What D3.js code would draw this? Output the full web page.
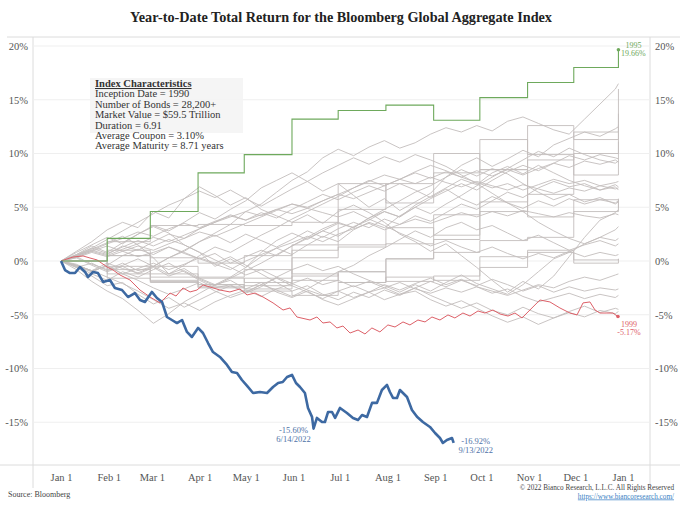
<!DOCTYPE html>
<html><head><meta charset="utf-8">
<script src="https://cdn.jsdelivr.net/npm/d3@7"></script>
<style>body{margin:0;background:#fff} text{font-family:"Liberation Serif","DejaVu Serif",serif}</style>
</head><body><svg id="c" width="680" height="510"></svg>
<script>
// ---------- DATA ----------
const title = "Year-to-Date Total Return for the Bloomberg Global Aggregate Index";
const yTicks = [-15, -10, -5, 0, 5, 10, 15, 20];
const infoLines = ["Inception Date = 1990", "Number of Bonds = 28,200+", "Market Value = $59.5 Trillion",
  "Duration = 6.91", "Average Coupon = 3.10%", "Average Maturity = 8.71 years"];

// monthly (step) series: day-of-year of month ends
const monthDays = [0, 30, 58, 89, 119, 150, 180, 211, 242, 272, 303, 333, 362];
const y1990 = [0, -1.6, -1.9, -2.5, -2.3, 0.3, 1.5, 3.1, 2.4, 4.6, 9.4, 12.0, 12.7];
const y1991 = [0, 1.0, -0.5, -1.5, -0.8, -1.2, -2.0, 0.2, 2.0, 5.5, 6.2, 10.0, 16.0];
const y1992 = [0, -0.8, -1.8, -2.4, -1.6, 1.5, 4.8, 7.2, 10.0, 8.5, 4.1, 4.6, 5.8];
const y1993 = [0, 1.8, 3.3, 3.4, 3.3, 3.6, 7.2, 5.4, 8.2, 11.3, 9.9, 8.0, 11.1];
const y1994 = [0, 0.5, -1.5, -2.2, -2.8, -3.2, -2.0, -1.5, -1.8, 0.4, 0.8, 0.1, 0.2];
const y1995 = [0, 2.1, 4.6, 8.2, 9.9, 13.2, 14.0, 14.5, 13.1, 15.2, 16.6, 18.0, 19.66];
const y1996 = [0, -0.5, -1.2, -1.6, -2.0, -1.8, -1.0, 0.2, 0.8, 1.9, 2.2, 5.7, 4.9];
const y1997 = [0, -1.2, -2.0, -2.2, -2.6, -1.4, -1.0, -1.9, -1.4, -0.6, 1.0, -0.2, 0.2];
const y1998 = [0, 0.5, 0.3, -0.2, 0.5, 1.0, 1.3, 1.6, 4.3, 8.5, 12.6, 11.3, 13.7];

// daily series sampled every 10 days
const days = [0,10,20,30,40,50,60,70,80,90,100,110,120,130,140,150,160,170,180,190,200,210,220,230,240,250,260,270,280,290,300,310,320,330,340,350,360,362];
const y2000 = [0,-0.5,-1.2,-1.8,-1.0,-1.5,-0.8,-0.2,-1.0,-1.8, -2.5,-2.2,-3.0,-2.4,-1.5,-0.8,-0.3,-0.9,-0.5,-1.2, -1.8,-2.3,-2.9,-2.2,-2.8,-2.0,-1.3,-2.1,-2.6,-3.1, -2.2,-1.0,0.2,0.8,1.6,2.2,2.9,3.2];
const y2001 = [0,-0.3,-1.0,-0.4,-1.2,-1.8,-2.5,-3.1,-2.6,-2.0, -2.8,-3.4,-2.9,-2.2,-2.7,-3.3,-2.6,-1.8,-1.0,-0.4, 0.5,1.2,2.0,2.8,2.2,3.1,3.6,2.9,3.3,2.6, 1.9,2.4,1.7,1.0,1.5,1.9,1.4,1.6];
const y2002 = [0,-0.4,-0.9,-0.2,-0.7,-1.1,-0.5,0.3,0.9,1.8, 2.6,3.4,4.6,5.3,6.4,7.5,8.3,9.6,10.4,9.8, 10.6,11.2,10.5,11.0,11.8,12.4,12.0,12.6,12.1,13.0, 13.4,12.8,12.2,11.8,13.2,14.6,16.0,16.5];
const y2003 = [0,0.8,1.5,2.2,1.6,2.5,3.3,2.8,3.6,4.5, 3.9,4.8,5.6,6.8,7.5,8.2,7.4,6.5,7.2,6.1, 5.0,5.8,4.7,5.5,6.3,7.8,8.9,9.6,8.8,9.5, 10.3,9.7,10.8,11.4,12.0,11.6,12.3,12.5];
const y2004 = [0,0.6,1.4,0.8,1.7,2.5,3.2,2.6,1.5,0.8, -0.5,0.2,-0.6,0.4,1.2,0.6,1.5,2.3,1.8,2.9, 3.6,3.1,4.2,5.0,4.4,5.3,6.1,7.0,7.8,8.6, 9.4,10.2,9.7,10.5,9.9,9.4,9.1,9.3];
const y2005 = [0,-0.6,-0.2,-0.9,-0.4,0.2,-0.5,-1.2,-0.7,-1.6, -2.2,-1.8,-2.6,-2.0,-2.9,-3.4,-2.8,-3.6,-4.1,-3.5, -2.9,-3.6,-3.1,-2.5,-3.2,-3.8,-4.4,-3.9,-4.6,-5.0, -4.3,-4.9,-5.3,-4.7,-4.2,-4.8,-4.4,-4.5];
const y2006 = [0,0.4,-0.3,-0.8,-0.2,-0.9,-0.5,0.3,1.0,1.8, 2.4,1.7,2.5,1.9,1.3,2.0,2.8,2.2,3.0,3.6, 3.1,3.9,3.4,4.2,3.7,4.5,5.3,4.8,5.6,6.4, 5.9,6.8,7.4,6.9,7.2,6.6,6.9,6.6];
const y2007 = [0,-0.5,-1.0,-0.4,0.5,1.1,0.6,1.3,0.8,0.2, 0.7,-0.2,0.4,1.0,0.5,1.4,2.1,2.8,2.3,3.2, 3.8,4.6,4.1,5.0,5.8,6.5,7.2,6.6,7.5,8.3, 8.9,8.4,9.1,9.8,9.4,9.9,9.6,9.5];
const y2008 = [0,0.9,1.8,2.9,3.6,3.1,4.6,4.0,5.8,6.9, 6.1,5.2,5.9,4.8,4.2,3.6,4.3,3.5,4.6,5.2, 4.5,3.6,2.5,1.8,0.9,1.6,0.5,-0.6,-1.8,-2.9, -1.9,-2.6,-1.4,0.4,2.2,3.8,4.5,4.8];
const y2009 = [0,-0.8,-1.9,-2.8,-3.5,-4.6,-5.8,-4.9,-3.8,-3.0, -2.2,-1.5,-0.6,0.8,1.9,2.6,2.0,2.8,3.5,3.1, 4.0,4.6,4.1,5.2,6.0,6.8,7.6,7.1,8.2,8.8, 8.1,8.9,8.2,7.5,7.0,6.6,7.1,6.9];
const y2010 = [0,0.3,-0.4,-1.0,-0.5,-1.2,-0.6,-1.4,-0.9,-1.7, -2.3,-1.6,-0.9,-0.2,0.6,1.4,2.2,3.0,3.6,3.1, 4.0,4.8,5.6,6.4,7.0,7.8,8.5,7.9,8.6,8.1, 7.2,6.4,5.7,6.2,5.5,5.9,5.3,5.5];
const y2011 = [0,0.5,1.0,0.6,1.4,1.0,1.8,2.5,2.1,3.0, 3.6,4.3,3.8,4.5,4.0,4.8,5.5,6.2,5.7,6.4, 7.0,6.5,7.2,6.6,5.9,6.7,5.8,5.2,6.0,5.4, 4.9,5.6,5.1,5.8,5.3,5.7,5.4,5.6];
const y2012 = [0,0.4,0.9,1.4,0.9,0.4,0.8,1.3,0.7,0.2, -0.3,-0.8,0.0,0.6,1.2,1.7,2.3,1.8,2.5,3.0, 3.5,2.9,3.4,3.9,3.5,4.0,4.5,4.1,4.6,4.2, 4.7,4.4,4.1,4.5,4.2,4.0,4.4,4.3];
const y2013 = [0,-0.4,-0.9,-0.5,-1.2,-0.7,-0.2,-0.8,-0.3,0.3, -0.2,0.4,-0.4,-1.2,-2.0,-2.8,-2.3,-3.1,-3.6,-2.9, -3.4,-2.7,-3.2,-2.5,-1.9,-2.4,-1.8,-2.3,-1.7,-2.2, -2.8,-2.3,-2.9,-2.4,-2.8,-2.5,-2.7,-2.6];
const y2014 = [0,0.5,1.0,1.6,2.1,2.7,2.3,3.0,3.5,3.1, 3.7,4.2,3.8,4.3,4.8,4.4,4.9,4.5,4.1,4.6, 3.9,3.3,2.6,2.0,1.4,1.9,1.3,0.8,1.3,0.7, 0.2,0.7,0.3,0.9,0.4,0.8,0.5,0.6];
const y2015 = [0,-0.6,-1.4,-2.3,-2.0,-3.1,-4.0,-3.4,-4.3,-3.6, -2.9,-2.3,-2.9,-2.2,-1.6,-2.3,-2.9,-3.5,-2.8,-3.4, -2.9,-2.2,-2.7,-2.1,-1.6,-2.2,-1.7,-2.4,-3.0,-2.6, -3.3,-3.8,-3.4,-3.0,-3.5,-3.1,-3.4,-3.2];
const y2016 = [0,0.5,1.2,2.0,2.8,3.6,4.4,5.2,5.8,6.5, 5.9,6.6,5.8,5.1,5.9,6.7,7.4,8.2,8.9,9.6, 9.0,9.7,9.2,9.9,9.4,8.8,8.0,7.2,6.3,5.4, 4.6,3.6,2.8,2.1,1.6,2.2,1.9,2.1];
const y2017 = [0,0.4,0.9,0.5,1.1,1.6,2.2,1.8,2.4,3.0, 3.6,4.1,4.6,4.2,4.8,5.3,4.9,5.6,6.2,6.8, 7.4,8.0,7.6,8.3,8.9,8.4,7.8,7.3,6.8,7.2, 6.6,7.1,7.6,7.2,7.5,7.0,7.3,7.4];
const y2018 = [0,0.6,1.2,0.7,1.3,1.9,1.4,2.0,1.5,0.8, 0.1,-0.6,-1.3,-0.8,-1.5,-2.1,-1.6,-2.2,-1.8,-2.4, -1.9,-2.5,-2.0,-2.6,-3.0,-2.5,-2.9,-2.4,-2.8,-3.2, -2.7,-2.2,-2.5,-1.9,-1.5,-1.8,-1.3,-1.2];
const y2019 = [0,0.3,0.8,0.4,0.9,1.4,1.0,1.6,2.1,2.7, 2.3,2.9,3.5,4.1,4.7,5.3,5.0,5.6,6.2,5.8, 6.4,7.0,7.6,7.2,7.8,7.3,6.9,7.4,7.0,6.6, 7.1,6.7,6.3,6.8,6.5,7.0,6.7,6.8];
const y2020 = [0,0.5,1.1,1.7,2.3,1.5,0.3,-1.2,-0.4,0.5, 1.3,0.8,1.6,2.4,3.1,3.9,4.6,5.3,6.0,6.8, 7.5,7.0,7.6,8.2,7.7,8.3,7.8,8.4,7.9,8.5, 8.0,8.6,9.1,8.7,9.3,9.0,9.4,9.2];
const y2021 = [0,-0.4,-0.9,-1.5,-2.1,-2.8,-3.6,-4.4,-3.9,-4.6, -3.8,-3.2,-2.7,-3.3,-2.6,-2.1,-2.7,-3.2,-2.8,-2.3, -2.9,-2.5,-3.1,-2.8,-3.6,-4.2,-3.7,-4.4,-5.1,-5.7, -5.2,-5.9,-5.3,-4.8,-5.2,-4.6,-4.9,-4.7];

// 1999 (highlighted red)
const days1999 = [0,7.8,14.3,18.8,23.4,29.9,33.8,38.3,44.8,51.3,57.8,64.3,70.8,74.7,79.2,83.8,88.3,92.2,96.8,103.2,109.7,116.2,120.8,126,131.2,137.7,144.2,148.7,153.2,161.7,166.2,170.1,174.7,179.2,183.1,187.7,192.9,197.4,201.9,207.1,212.3,216.9,222.1,226.6,231.8,236.4,240.9,246.1,251.3,255.8,261,265.6,270.8,275.3,280.5,285.1,290.3,294.8,299.4,304.5,311,317.5,324,330.5,335.1,339,343.5,346.8,350,354.5,358.4,361.7];
const y1999 = [0,0.37,0.47,0.28,0.1,-0.56,-0.84,-1.3,-1.77,-2.7,-3.35,-3.9,-2.98,-3.26,-2.51,-2.88,-2.7,-2.23,-2.42,-2.7,-2.88,-2.6,-3.16,-2.98,-3.35,-3.9,-4.56,-4.37,-5.21,-5.49,-5.21,-5.77,-5.67,-6.23,-6.05,-6.7,-6.42,-6.79,-6.23,-6.6,-5.95,-6.14,-5.67,-5.95,-5.49,-5.67,-5.21,-5.49,-5.02,-5.3,-4.84,-5.12,-4.65,-4.84,-4.56,-4.93,-5.12,-4.84,-5.3,-4.56,-3.63,-3.81,-4.37,-4.84,-5.02,-3.9,-3.81,-4.56,-4.84,-4.84,-4.84,-5.17];

// 2022 (highlighted blue)
const days2022 = [0,2.6,5.8,9.1,12.3,15.6,17.5,20.8,24,27.3,31.8,35,39.6,43.5,48,51.3,54.5,59,62.3,65.6,68.8,72,75.3,78.6,81.8,85,89,92.2,95.5,98.7,103.2,107.8,111,114.3,117.5,121.4,124.7,129.2,133.8,137.7,141,144,146.8,150,152.6,155.2,158.4,160.4,163,164,166.2,169.5,171.4,173.4,176,178,181.2,185.7,189.6,192.9,195.5,198.7,202,205.2,208.4,211.7,213.6,215.6,218.2,220.1,224.7,227.9,231.2,235,239.6,242.9,246.1,248,250.6,253.9,255];
const y2022 = [0,-0.84,-1.12,-1.12,-0.56,-1.02,-1.49,-1.02,-1.12,-1.95,-1.77,-2.51,-2.7,-3.35,-2.98,-3.63,-3.81,-2.88,-3.44,-3.81,-5.21,-5.49,-5.77,-5.49,-6.6,-7.07,-6.23,-6.7,-7.63,-8.47,-8.93,-9.67,-10.33,-10.42,-11.07,-11.72,-12.28,-12.19,-12.28,-11.72,-11.35,-11.26,-10.79,-10.6,-11.35,-11.72,-12.28,-13.67,-14.5,-15.6,-14.6,-14.98,-14.98,-14.05,-14.05,-14.6,-13.67,-14.14,-14.6,-14.79,-14.33,-14.51,-13.2,-13.2,-12.0,-11.53,-12.19,-12.74,-12.74,-12.0,-12.65,-13.86,-14.5,-14.98,-15.44,-16.0,-16.47,-16.93,-16.65,-16.47,-16.92];
const annotDay2022 = 164;   // 6/14/2022 low annotated in the chart

const grayMonthly = [y1990, y1991, y1992, y1993, y1994, y1996, y1997, y1998];
const grayDaily = [y2000,y2001,y2002,y2003,y2004,y2005,y2006,y2007,y2008,y2009,y2010,y2011,y2012,y2013,y2014,y2015,y2016,y2017,y2018,y2019,y2020,y2021];

// ---------- CHART ----------
const svg = d3.select("#c");
const L = 33, R = 650, T = 37, B = 465;
const base = Date.UTC(2022, 0, 1);
const toDate = d => new Date(base + d * 864e5);
const x = d3.scaleUtc().domain([toDate(-18.19), toDate(382.5)]).range([L, R]);
const y = d3.scaleLinear().domain([-18.98, 20.84]).range([B, T]);

const zip = (ds, vs) => vs.map((v, i) => [ds[i], v]).filter(p => p[0] !== undefined);
const line = d3.line().x(d => x(toDate(d[0]))).y(d => y(d[1]));
const step = d3.line().x(d => x(toDate(d[0]))).y(d => y(d[1])).curve(d3.curveStepAfter);

// frame
const frame = svg.append("g").attr("stroke", "#dcdcdc").attr("stroke-width", 1);
frame.append("line").attr("x1", 7).attr("x2", 680).attr("y1", T).attr("y2", T);
frame.append("line").attr("x1", 0).attr("x2", 680).attr("y1", B).attr("y2", B);
frame.append("line").attr("x1", L).attr("x2", L).attr("y1", T).attr("y2", 488);
frame.append("line").attr("x1", R).attr("x2", R).attr("y1", T).attr("y2", 488);

// grid
svg.append("g").selectAll("line").data(yTicks).join("line")
  .attr("x1", L).attr("x2", R).attr("y1", d => y(d)).attr("y2", d => y(d))
  .attr("stroke", "#efefef").attr("stroke-width", 1);

// axes
const fmt = d => d + "%";
const ax1 = svg.append("g").attr("transform", `translate(${L},0)`)
  .call(d3.axisLeft(y).tickValues(yTicks).tickFormat(fmt).tickSize(0).tickPadding(5));
const ax2 = svg.append("g").attr("transform", `translate(${R},0)`)
  .call(d3.axisRight(y).tickValues(yTicks).tickFormat(fmt).tickSize(0).tickPadding(5));
const months = d3.utcMonth.range(new Date(Date.UTC(2022, 0, 1)), new Date(Date.UTC(2023, 0, 2)));
const ax3 = svg.append("g").attr("transform", `translate(0,${B})`)
  .call(d3.axisBottom(x).tickValues(months).tickFormat(d3.utcFormat("%b %-d")).tickSize(0).tickPadding(9));
[ax1, ax2, ax3].forEach(a => {
  a.select(".domain").remove();
  a.selectAll("text").attr("fill", "#555").attr("font-size", 10.5).style("font-family", '"Liberation Serif",serif');
});

// gray lines
const gG = svg.append("g").attr("fill", "none").attr("stroke", "#c3bdbc").attr("stroke-width", 0.9);
grayMonthly.forEach(s => gG.append("path").attr("d", step(zip(monthDays, s))));
grayDaily.forEach(s => gG.append("path").attr("d", line(zip(days, s))));

// 1999 red
const red = "#dd6068";
const rd = zip(days1999, y1999);
svg.append("path").attr("d", line(rd)).attr("fill", "none").attr("stroke", red).attr("stroke-width", 1);
const rl = rd[rd.length - 1];
svg.append("circle").attr("cx", x(toDate(rl[0]))).attr("cy", y(rl[1])).attr("r", 1.8).attr("fill", red);
svg.append("text").attr("x", x(toDate(rl[0])) + 11).attr("y", y(rl[1]) + 10).attr("text-anchor", "middle")
  .attr("font-size", 8).attr("fill", red).text("1999");
svg.append("text").attr("x", x(toDate(rl[0])) + 11).attr("y", y(rl[1]) + 18).attr("text-anchor", "middle")
  .attr("font-size", 8).attr("fill", red).text(rl[1].toFixed(2) + "%");

// 1995 green
const green = "#6ea95c";
const gd = zip(monthDays, y1995);
svg.append("path").attr("d", step(gd)).attr("fill", "none").attr("stroke", green).attr("stroke-width", 1.1);
const gl = gd[gd.length - 1];
svg.append("circle").attr("cx", x(toDate(gl[0]))).attr("cy", y(gl[1])).attr("r", 1.8).attr("fill", green);
svg.append("text").attr("x", x(toDate(gl[0])) + 15).attr("y", y(gl[1]) - 1.5).attr("text-anchor", "middle")
  .attr("font-size", 8).attr("fill", green).text("1995");
svg.append("text").attr("x", x(toDate(gl[0])) + 15).attr("y", y(gl[1]) + 6.5).attr("text-anchor", "middle")
  .attr("font-size", 8).attr("fill", green).text(gl[1].toFixed(2) + "%");

// 2022 blue
const blue = "#3d69a2";
const bd = zip(days2022, y2022);
svg.append("path").attr("d", line(bd)).attr("fill", "none").attr("stroke", blue).attr("stroke-width", 2.6)
  .attr("stroke-linejoin", "round");
const bTxt = "#4f73a8";
const trough = bd.find(d => d[0] === annotDay2022);
const bl = bd[bd.length - 1];
const dstr = d => { const t = toDate(d); return (t.getUTCMonth() + 1) + "/" + t.getUTCDate() + "/2022"; };
svg.append("text").attr("x", x(toDate(trough[0])) - 20).attr("y", y(trough[1]) + 4.5).attr("text-anchor", "middle")
  .attr("font-size", 8.5).attr("fill", bTxt).text(trough[1].toFixed(2) + "%");
svg.append("text").attr("x", x(toDate(trough[0])) - 20).attr("y", y(trough[1]) + 13.5).attr("text-anchor", "middle")
  .attr("font-size", 8.5).attr("fill", bTxt).text(dstr(trough[0]));
svg.append("text").attr("x", x(toDate(bl[0])) + 22).attr("y", y(bl[1]) + 1.5).attr("text-anchor", "middle")
  .attr("font-size", 8.5).attr("fill", bTxt).text(bl[1].toFixed(2) + "%");
svg.append("text").attr("x", x(toDate(bl[0])) + 22).attr("y", y(bl[1]) + 10.5).attr("text-anchor", "middle")
  .attr("font-size", 8.5).attr("fill", bTxt).text(dstr(bl[0]));

// info box
svg.append("rect").attr("x", 90).attr("y", 78).attr("width", 153).attr("height", 55).attr("fill", "#f4f4f4").attr("opacity", 0.9);
svg.append("text").attr("x", 95).attr("y", 87).attr("font-size", 10.5).attr("font-weight", "bold")
  .attr("fill", "#333").attr("text-decoration", "underline").text("Index Characteristics");
infoLines.forEach((t, i) => svg.append("text").attr("x", 95).attr("y", 97.4 + i * 10.4)
  .attr("font-size", 10.5).attr("fill", "#333").text(t));

// title
svg.append("text").attr("x", 341).attr("y", 22).attr("text-anchor", "middle").attr("font-size", 15)
  .attr("font-weight", "bold").attr("fill", "#222").attr("textLength", 422).attr("lengthAdjust", "spacingAndGlyphs")
  .text(title);

// footer
svg.append("text").attr("x", 8).attr("y", 497).attr("font-size", 8).attr("fill", "#444").text("Source: Bloomberg");
svg.append("text").attr("x", 674).attr("y", 490).attr("text-anchor", "end").attr("font-size", 7.2).attr("fill", "#444")
  .text("© 2022 Bianco Research, L.L.C. All Rights Reserved");
svg.append("text").attr("x", 674).attr("y", 498.5).attr("text-anchor", "end").attr("font-size", 7.2).attr("fill", "#3a7fc4")
  .attr("text-decoration", "underline").text("https://www.biancoresearch.com/");
</script></body></html>
